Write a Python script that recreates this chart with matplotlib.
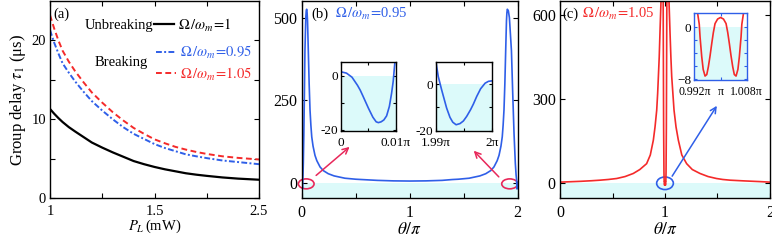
import numpy as np
import matplotlib
matplotlib.use('Agg')
import matplotlib.pyplot as plt
from matplotlib.patches import Ellipse

# ---- panel (a): group delay vs pump power ----
P_L = [1.0, 1.02, 1.04, 1.06, 1.09, 1.12, 1.16, 1.2, 1.25, 1.3, 1.35, 1.4, 1.45,
       1.5, 1.6, 1.7, 1.8, 1.9, 2.0, 2.15, 2.3, 2.5]
tau_unbreak = [11.3, 10.7, 10.15, 9.65, 9.0, 8.45, 7.75, 7.05, 6.4, 5.8, 5.25, 4.7,
               4.3, 3.95, 3.65, 3.4, 3.15, 2.97, 2.82, 2.62, 2.47, 2.33]
tau_095 = [21.3, 19.7, 18.35, 17.1, 15.9, 14.8, 13.5, 12.3, 11.1, 10.0, 9.0, 8.15,
           7.5, 6.85, 6.35, 5.95, 5.55, 5.3, 5.07, 4.77, 4.57, 4.3]
tau_105 = [23.2, 21.5, 20.0, 18.7, 17.3, 16.1, 14.7, 13.4, 12.1, 10.9, 9.85, 8.9,
           8.15, 7.45, 6.95, 6.5, 6.15, 5.85, 5.6, 5.3, 5.1, 4.9]

# ---- panel (b): Omega/omega_m = 0.95 ----
theta_b = [0, 0.001, 0.002, 0.003, 0.0035, 0.004, 0.005, 0.0058, 0.0064, 0.0068,
           0.0073, 0.0078, 0.0083, 0.0088, 0.0092, 0.0095, 0.0098, 0.01, 0.012,
           0.015, 0.02, 0.025, 0.03, 0.038, 0.042, 0.046, 0.05, 0.054, 0.061,
           0.069, 0.077, 0.085, 0.093, 0.105, 0.123, 0.14, 0.17, 0.2, 0.246, 0.3,
           0.4, 0.5, 0.556, 0.7, 0.85, 1.0, 1.15, 1.3, 1.394, 1.45, 1.55, 1.65,
           1.704, 1.75, 1.78, 1.81, 1.827, 1.845, 1.857, 1.865, 1.873, 1.881,
           1.889, 1.896, 1.9, 1.904, 1.9136, 1.923, 1.942, 1.954, 1.966, 1.978,
           1.985, 1.99, 1.9904, 1.991, 1.9919, 1.9925, 1.993, 1.9936, 1.9943,
           1.9949, 1.9955, 1.9962, 1.9967, 1.9973, 1.998, 1.9988, 1.9994, 2.0]
tau_b = [1.5, 1.0, -0.5, -3.5, -5.3, -7.5, -12.0, -15.3, -17.0, -17.3,
         -17.0, -16.3, -14.8, -11.3, -6.5, -2.0, 4.9, 9, 25,
         60, 150, 270, 400, 500, 520, 525, 515, 490, 403,
         300, 221, 175, 140, 112, 84, 68, 49, 38, 28.6, 22,
         15, 12, 11, 8.5, 7, 6.5, 7, 8.5, 11, 12, 15, 22,
         28.6, 38, 49, 68, 84, 112, 140, 175, 221, 300,
         403, 490, 515, 525, 520, 500, 400, 270, 150, 60,
         25, 9.4, 3.3, -2.4, -10.3, -14.3, -16.4, -17.5, -17.0,
         -15.9, -13.9, -11.0, -8.6, -5.3, -2.0, 0.4, 1.2, 1.4]

# ---- panel (c): Omega/omega_m = 1.05 ----
theta_c = [0, 0.2, 0.3, 0.381, 0.46, 0.54, 0.62, 0.698, 0.76, 0.825, 0.86, 0.889,
           0.905, 0.921, 0.93, 0.937, 0.945, 0.952, 0.962, 0.97, 0.975, 0.98,
           0.984, 0.987, 0.99, 0.992, 0.9925, 0.993, 0.9935, 0.99374, 0.99426,
           0.9947, 0.99527, 0.9958, 0.99628, 0.9968, 0.99731, 0.9978, 0.99832,
           0.9991, 1.0, 1.0009, 1.00168, 1.0022, 1.00269, 1.0032, 1.00372,
           1.0042, 1.00473, 1.0053, 1.00574, 1.00626, 1.0065, 1.007, 1.0075,
           1.008, 1.01, 1.013, 1.016, 1.02, 1.025, 1.03, 1.038, 1.048, 1.056,
           1.064, 1.075, 1.086, 1.105, 1.127, 1.16, 1.206, 1.26, 1.333, 1.41,
           1.49, 1.55, 1.62, 1.75, 1.9, 2.0]
tau_c = [3, 6, 8, 10, 12.5, 16, 23, 34, 48, 69, 100, 153,
         200, 260, 320, 380, 450, 535, 650, 850, 1000, 900,
         500, 200, 40, 6, 6, 2.2, 0.5, -1.45, -4.55,
         -6.5, -7.54, -7.3, -6.1, -4.4, -2.5, -0.8, 0.6,
         1.3, 1.55, 1.3, 0.6, -0.8, -2.5, -4.4, -6.1,
         -7.3, -7.54, -6.5, -4.55, -1.45, 0.5, 2.2, 6,
         6, 40, 200, 500, 900, 1000, 850, 650, 535, 450,
         380, 320, 260, 200, 153, 100, 69, 48, 34, 23,
         16, 12.5, 10, 7.5, 5, 3]

blue = '#2f5fe8'
red = '#f42a2a'
pink = '#e8285a'
cyan = '#dcfafa'

plt.rcParams['font.family'] = 'serif'
plt.rcParams['font.serif'] = ['Liberation Serif', 'DejaVu Serif']
plt.rcParams['mathtext.fontset'] = 'stix'
plt.rcParams['font.size'] = 10.5
plt.rcParams['axes.linewidth'] = 1.0
plt.rcParams['xtick.direction'] = 'in'
plt.rcParams['ytick.direction'] = 'in'
plt.rcParams['xtick.top'] = True
plt.rcParams['ytick.right'] = True
plt.rcParams['xtick.major.size'] = 3.5
plt.rcParams['ytick.major.size'] = 3.5
plt.rcParams['xtick.major.pad'] = 5
plt.rcParams['ytick.major.pad'] = 3

fig = plt.figure(figsize=(7.72, 2.41), dpi=100)

# ------------------------- (a)
ax1 = fig.add_axes([0.0648, 0.178, 0.2707, 0.818])


def fwd(p):
    p = np.asarray(p, dtype=float)
    return np.where(p <= 1.5, p - 1.0, 0.5 + (p - 1.5) / 2.0)


def inv(f):
    f = np.asarray(f, dtype=float)
    return np.where(f <= 0.5, f + 1.0, 1.5 + (f - 0.5) * 2.0)


ax1.set_xscale('function', functions=(fwd, inv))
ax1.plot(P_L, tau_unbreak, color='k', lw=1.6, label=r'$\Omega\,/\omega_m\!=\!1$')
ax1.plot(P_L, tau_095, color=blue, lw=1.4, dashes=(3, 1.2, 1, 1.2),
         label=r'$\Omega\,/\omega_m\!=\!0.95$')
ax1.plot(P_L, tau_105, color=red, lw=1.4, dashes=(3, 1.8),
         label=r'$\Omega\,/\omega_m\!=\!1.05$')
ax1.set_xlim(1, 2.5)
ax1.set_ylim(0, 25)
ax1.set_xticks([1, 1.25, 1.5, 2.0, 2.5])
ax1.set_xticklabels(['1', '', '1.5', '', '2.5'])
ax1.minorticks_off()
ax1.set_yticks([0, 5, 10, 15, 20])
ax1.set_yticklabels(['0', '', '10', '', '20'])
ax1.set_xlabel(r'$P_L\,$(mW)', labelpad=0)
ax1.set_ylabel(r'Group delay $\tau_1$ (μs)', labelpad=2, fontsize=12)
ax1.text(0.015, 0.935, '(a)', transform=ax1.transAxes, va='center', ha='left')

h, l = ax1.get_legend_handles_labels()
leg1 = ax1.legend(h[:1], l[:1], loc='center left', bbox_to_anchor=(0.497, 0.878),
                  frameon=False, borderpad=0, borderaxespad=0, handlelength=1.4,
                  handletextpad=0.25, fontsize=10.5)
ax1.add_artist(leg1)
ax1.legend(h[1:], l[1:], loc='center left', bbox_to_anchor=(0.505, 0.684),
           frameon=False, borderpad=0, borderaxespad=0, handlelength=1.4,
           handletextpad=0.25, labelspacing=0.3, labelcolor='linecolor', fontsize=10.5)
ax1.text(0.493, 0.878, 'Unbreaking', transform=ax1.transAxes, ha='right', va='center')
ax1.text(0.47, 0.69, 'Breaking', transform=ax1.transAxes, ha='right', va='center')

# ------------------------- (b)
ax2 = fig.add_axes([0.3908, 0.178, 0.2798, 0.818])
ax2.axhspan(-1000, 0, color=cyan, lw=0, zorder=0)
ax2.plot(theta_b, tau_b, color=blue, lw=1.2)
ax2.set_xlim(0, 2)
ax2.set_ylim(-45, 550)
ax2.set_xticks([0, 0.5, 1, 1.5, 2])
ax2.set_xticklabels(['0', '', '1', '', '2'])
ax2.set_yticks([0, 250, 500])
ax2.tick_params(labelsize=11.5)
ax2.set_xlabel(r'$\theta/\pi$', labelpad=1, fontsize=12.5)
ax2.text(0.046, 0.935, '(b)', transform=ax2.transAxes, va='center', ha='left')
ax2.text(0.154, 0.935, r'$\Omega\,/\omega_m\!=\!$0.95', transform=ax2.transAxes,
         va='center', ha='left', color=blue)
ax2.add_patch(Ellipse((0.042, -2), 0.145, 30, fill=False, ec=pink, lw=1.2, clip_on=False))
ax2.add_patch(Ellipse((1.926, -2), 0.148, 30, fill=False, ec=pink, lw=1.2, clip_on=False))
ax2.annotate('', xy=(0.463, 115), xytext=(0.114, 18),
             arrowprops=dict(arrowstyle='->', color=pink, lw=1.1))
ax2.annotate('', xy=(1.575, 104), xytext=(1.843, 13),
             arrowprops=dict(arrowstyle='->', color=pink, lw=1.1))

# insets of (b)
axl = fig.add_axes([0.4417, 0.4564, 0.0712, 0.285])
axl.axhspan(-1000, 0, color=cyan, lw=0, zorder=0)
axl.plot(theta_b, tau_b, color=blue, lw=1.2)
axl.set_xlim(0, 0.01)
axl.set_ylim(-20.4, 5)
axl.set_xticks([0, 0.005, 0.01])
axl.set_xticklabels(['0', '', '0.01π'])
axl.set_yticks([-20, -10, 0])
axl.set_yticklabels(['-20', '', '0'])
axl.tick_params(length=2.5, labelsize=9.5)
axl.tick_params(axis='x', pad=4)
axl.tick_params(axis='y', pad=2)

axr = fig.add_axes([0.5648, 0.4564, 0.0722, 0.285])
axr.axhspan(-1000, 0, color=cyan, lw=0, zorder=0)
axr.plot(theta_b, tau_b, color=blue, lw=1.2)
axr.set_xlim(1.99, 2.0)
axr.set_ylim(-20.2, 9.4)
axr.set_xticks([1.99, 1.995, 2.0])
axr.set_xticklabels(['1.99π', '', '2π'])
axr.set_yticks([-20, -10, 0])
axr.set_yticklabels(['-20', '', '0'])
axr.tick_params(length=2.5, labelsize=9.5)
axr.tick_params(axis='x', pad=4)
axr.tick_params(axis='y', pad=2)

# ------------------------- (c)
ax3 = fig.add_axes([0.7254, 0.178, 0.272, 0.818])
ax3.axhspan(-1000, 0, color=cyan, lw=0, zorder=0)
ax3.plot(theta_c, tau_c, color=red, lw=1.2)
ax3.set_xlim(0, 2)
ax3.set_ylim(-54, 650)
ax3.set_xticks([0, 0.5, 1, 1.5, 2])
ax3.set_xticklabels(['0', '', '1', '', '2'])
ax3.set_yticks([0, 300, 600])
ax3.tick_params(labelsize=11.5)
ax3.set_xlabel(r'$\theta/\pi$', labelpad=1, fontsize=12.5)
ax3.text(0.012, 0.935, '(c)', transform=ax3.transAxes, va='center', ha='left')
ax3.text(0.104, 0.935, r'$\Omega\,/\omega_m\!=\!$1.05', transform=ax3.transAxes,
         va='center', ha='left', color=red)
ax3.add_patch(Ellipse((1.0, -1), 0.159, 45, fill=False, ec=blue, lw=1.2, clip_on=False))
ax3.annotate('', xy=(1.508, 284), xytext=(1.054, 16),
             arrowprops=dict(arrowstyle='->', color=blue, lw=1.1))

axc = fig.add_axes([0.8994, 0.668, 0.0679, 0.277])
axc.axhspan(-1000, 0, color=cyan, lw=0, zorder=0)
axc.plot(theta_c, tau_c, color=red, lw=1.2)
axc.set_xlim(0.992, 1.008)
axc.set_ylim(-8.15, 2.2)
axc.set_xticks([0.992, 1.0, 1.008])
axc.set_xticklabels(['0.992π', 'π', '1.008π'], fontsize=8.5)
axc.set_yticks([-8, -6, -4, -2, 0])
axc.set_yticklabels(['\u22128', '', '', '', '0'], fontsize=9.5)
axc.tick_params(length=2.5, color=blue)
axc.tick_params(axis='x', pad=4)
axc.tick_params(axis='y', pad=2)
for s in axc.spines.values():
    s.set_edgecolor(blue)

fig.savefig('out.png', dpi=100)
